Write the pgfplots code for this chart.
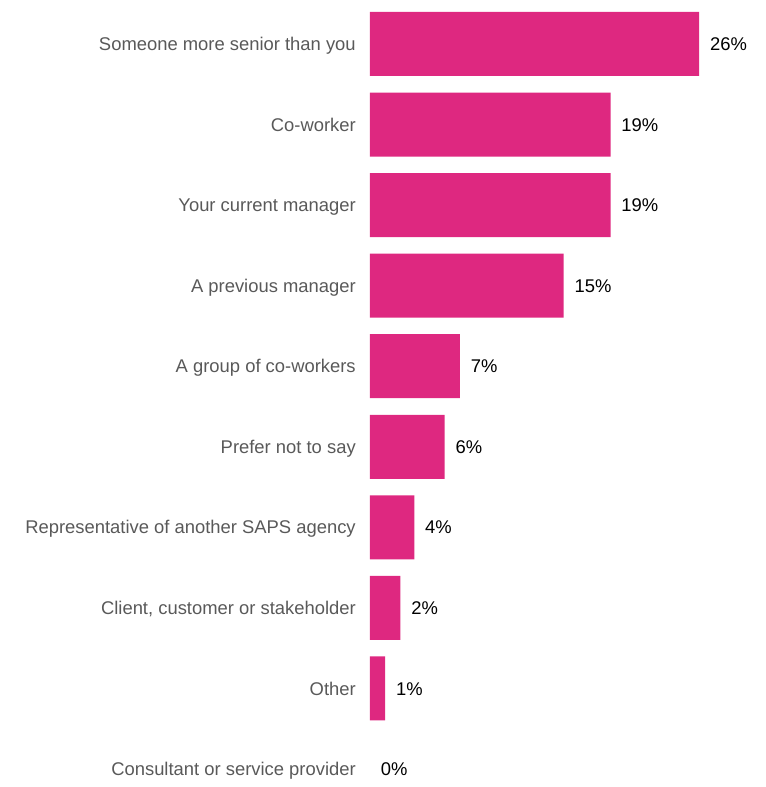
\documentclass[border=0pt]{standalone}
\usepackage{pgfplots}
\pgfplotsset{compat=1.18}
\usepackage{pgfplotstable}
\usepackage{fontspec}
\setmainfont{Liberation Sans}
\definecolor{barpink}{HTML}{DE2880}
\definecolor{labgrey}{HTML}{595959}

% y = position (0 at top), x = bar length, lab = printed percentage
\pgfplotstableread{
y  x     lab
0  26.0  26
1  19.0  19
2  19.0  19
3  15.3  15
4   7.1   7
5   5.9   6
6   3.5   4
7   2.4   2
8   1.2   1
9   0.0   0
}\mydata

\begin{document}
\begin{tikzpicture}
\begin{axis}[
    scale only axis,
    width=296.25pt, height=590.25pt,
    xmin=0, xmax=31.2,
    ymin=-0.546, ymax=9.223,
    y dir=reverse,
    xbar, bar width=48pt, bar shift=0pt,
    axis line style={draw=none},
    major tick length=0pt,
    xtick=\empty,
    ytick={0,1,...,9},
    yticklabels={Someone more senior than you, Co-worker, Your current manager,
      A previous manager, A group of co-workers, Prefer not to say,
      Representative of another SAPS agency, Client{,} customer or stakeholder,
      Other, Consultant or service provider},
    yticklabel style={font=\fontsize{13.8}{16}\selectfont, text=labgrey,
      inner xsep=0pt, xshift=-10.5pt, text height=9.9pt, text depth=0pt},
    clip=false,
    point meta=explicit,
    /pgf/number format/assume math mode=true,
    nodes near coords={\pgfmathprintnumber[fixed,precision=0]{\pgfplotspointmeta}\%},
    nodes near coords style={font=\fontsize{13.8}{16}\selectfont, text=black,
      anchor=west, inner xsep=0pt, xshift=8pt, text height=9.9pt, text depth=0pt},
]
\addplot[fill=barpink, draw=none, restrict y to domain=0:8]
  table[x=x, y=y, meta=lab] {\mydata};
\addplot[fill=none, draw=none, restrict y to domain=9:9]
  table[x=x, y=y, meta=lab] {\mydata};
\coordinate (bl) at (axis description cs:0,0);
\coordinate (tr) at (axis description cs:1,1);
\end{axis}
\pgfresetboundingbox
\path[use as bounding box] ([xshift=-277.5pt]bl) rectangle (tr);
\end{tikzpicture}
\end{document}
